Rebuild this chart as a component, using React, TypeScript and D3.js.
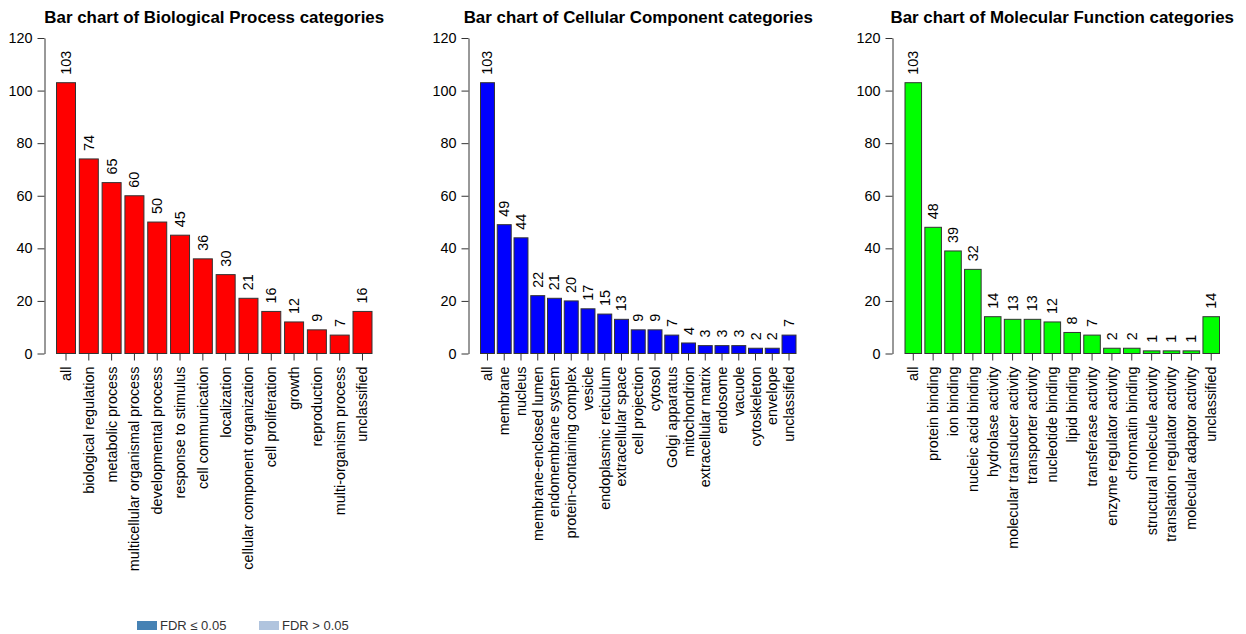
import React, { useEffect, useRef } from "react";
import * as d3 from "d3";

// Biological Process
const bpCategories = [
  "all", "biological regulation", "metabolic process", "multicellular organismal process",
  "developmental process", "response to stimulus", "cell communication", "localization",
  "cellular component organization", "cell proliferation", "growth", "reproduction",
  "multi-organism process", "unclassified",
];
const bpValues = [103, 74, 65, 60, 50, 45, 36, 30, 21, 16, 12, 9, 7, 16];

// Cellular Component
const ccCategories = [
  "all", "membrane", "nucleus", "membrane-enclosed lumen", "endomembrane system",
  "protein-containing complex", "vesicle", "endoplasmic reticulum", "extracellular space",
  "cell projection", "cytosol", "Golgi apparatus", "mitochondrion", "extracellular matrix",
  "endosome", "vacuole", "cytoskeleton", "envelope", "unclassified",
];
const ccValues = [103, 49, 44, 22, 21, 20, 17, 15, 13, 9, 9, 7, 4, 3, 3, 3, 2, 2, 7];

// Molecular Function
const mfCategories = [
  "all", "protein binding", "ion binding", "nucleic acid binding", "hydrolase activity",
  "molecular transducer activity", "transporter activity", "nucleotide binding",
  "lipid binding", "transferase activity", "enzyme regulator activity", "chromatin binding",
  "structural molecule activity", "translation regulator activity",
  "molecular adaptor activity", "unclassified",
];
const mfValues = [103, 48, 39, 32, 14, 13, 13, 12, 8, 7, 2, 2, 1, 1, 1, 14];

const yTicks = [0, 20, 40, 60, 80, 100, 120];

const legendLabels = ["FDR \u2264 0.05", "FDR > 0.05"];
const legendColors = ["#4682b4", "#b0c4de"];

const W = 1246;
const H = 634;
const FONT = "'Liberation Sans', Arial, Helvetica, sans-serif";

const panels = [
  { title: "Bar chart of Biological Process categories", cats: bpCategories, vals: bpValues, color: "#ff0000", axisX: 44, x0: 56.5, x1: 372 },
  { title: "Bar chart of Cellular Component categories", cats: ccCategories, vals: ccValues, color: "#0000ff", axisX: 468, x0: 480.5, x1: 796 },
  { title: "Bar chart of Molecular Function categories", cats: mfCategories, vals: mfValues, color: "#00ff00", axisX: 892, x0: 905, x1: 1219.5 },
];

export default function App() {
  const ref = useRef<SVGSVGElement | null>(null);

  useEffect(() => {
    const svg = d3.select(ref.current);
    svg.selectAll("*").remove();

    const y = d3.scaleLinear().domain([0, 120]).range([353.5, 38]);

    panels.forEach((p) => {
      const g = svg.append("g");
      const x = d3
        .scaleBand<string>()
        .domain(p.cats)
        .range([p.x0, p.x1])
        .paddingInner(0.2 / 1.2)
        .paddingOuter(0);

      // title
      g.append("text")
        .attr("x", (p.x0 + p.x1) / 2)
        .attr("y", 23)
        .attr("text-anchor", "middle")
        .attr("font-family", FONT)
        .attr("font-weight", "bold")
        .attr("font-size", 16.9)
        .attr("fill", "#000")
        .text(p.title);

      // y axis
      const ax = g
        .append("g")
        .attr("transform", `translate(${p.axisX + 0.5},0)`)
        .call(
          d3.axisLeft(y).tickValues(yTicks).tickSize(7).tickSizeOuter(0).tickPadding(5)
        );
      ax.select(".domain").attr("stroke", "#333");
      ax.selectAll(".tick line").attr("stroke", "#333");
      ax.selectAll(".tick text")
        .attr("font-family", FONT)
        .attr("font-size", 14.4)
        .attr("fill", "#000");

      // bars
      g.selectAll("rect.bar")
        .data(p.cats)
        .join("rect")
        .attr("class", "bar")
        .attr("x", (c) => x(c)!)
        .attr("width", x.bandwidth())
        .attr("y", (_c, i) => y(p.vals[i]))
        .attr("height", (_c, i) => y(0) - y(p.vals[i]))
        .attr("fill", p.color)
        .attr("stroke", "#333")
        .attr("stroke-width", 1);

      // value labels
      g.selectAll("text.val")
        .data(p.cats)
        .join("text")
        .attr("class", "val")
        .attr(
          "transform",
          (c, i) => `translate(${x(c)! + x.bandwidth() / 2},${y(p.vals[i]) - 8}) rotate(-90)`
        )
        .attr("dominant-baseline", "central")
        .attr("text-anchor", "start")
        .attr("font-family", FONT)
        .attr("font-size", 14.4)
        .attr("fill", "#000")
        .text((_c, i) => String(p.vals[i]));

      // x ticks and category labels
      const xa = g
        .append("g")
        .attr("transform", `translate(0,${y(0)})`)
        .call(d3.axisBottom(x).tickSize(7).tickSizeOuter(0).tickPadding(0));
      xa.select(".domain").remove();
      xa.selectAll(".tick line").attr("stroke", "#333");
      xa.selectAll(".tick text")
        .attr("transform", "translate(0,13) rotate(-90)")
        .attr("y", 0)
        .attr("dy", null)
        .attr("dominant-baseline", "central")
        .attr("text-anchor", "end")
        .attr("font-family", FONT)
        .attr("font-size", 14.4)
        .attr("fill", "#000");
    });

    // legend
    const lg = svg.append("g");
    const lx = [137, 259];
    legendLabels.forEach((lab, i) => {
      lg.append("rect")
        .attr("x", lx[i])
        .attr("y", 621)
        .attr("width", 20)
        .attr("height", 9)
        .attr("fill", legendColors[i]);
      lg.append("text")
        .attr("x", lx[i] + 23)
        .attr("y", 630)
        .attr("font-family", FONT)
        .attr("font-size", 13)
        .attr("fill", "#333")
        .text(lab);
    });
  }, []);

  return (
    <svg
      ref={ref}
      width={W}
      height={H}
      viewBox={`0 0 ${W} ${H}`}
      style={{ position: "absolute", left: 0, top: 0, background: "#fff" }}
    />
  );
}
